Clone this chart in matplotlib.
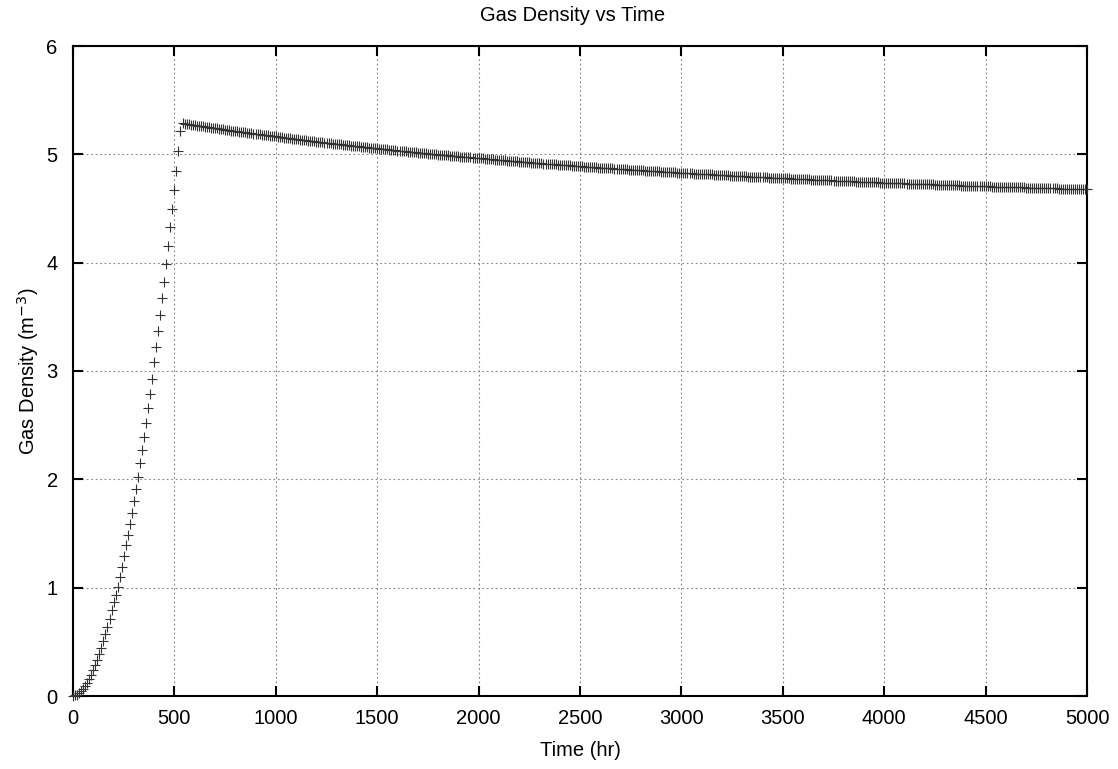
import numpy as np
import matplotlib
matplotlib.use("Agg")
import matplotlib.pyplot as plt

plt.rcParams['font.family'] = ['Liberation Sans', 'DejaVu Sans']

# Filling phase: one sample every 10 hr from 0 to 530 hr
rise_time = np.arange(0, 540, 10)
rise_density = [
    0.000, 0.005, 0.012, 0.025, 0.043, 0.065, 0.092, 0.122, 0.157, 0.196,
    0.240, 0.285, 0.335, 0.390, 0.447, 0.508, 0.572, 0.640, 0.710, 0.795,
    0.865, 0.935, 1.010, 1.100, 1.190, 1.290, 1.390, 1.490, 1.590, 1.690,
    1.800, 1.910, 2.020, 2.150, 2.270, 2.390, 2.520, 2.660, 2.790, 2.930,
    3.080, 3.220, 3.370, 3.520, 3.670, 3.820, 3.990, 4.150, 4.330, 4.500,
    4.670, 4.850, 5.030, 5.220,
]

# Relaxation phase: one sample every 10 hr from 540 to 5000 hr
decay_time = np.arange(540, 5001, 10)
decay_density = [
    5.286, 5.283, 5.280, 5.277, 5.274, 5.272,
    5.269, 5.266, 5.264, 5.261, 5.258, 5.256, 5.253, 5.250, 5.247, 5.245,
    5.242, 5.239, 5.237, 5.234, 5.231, 5.229, 5.226, 5.223, 5.220, 5.218,
    5.215, 5.212, 5.210, 5.207, 5.205, 5.202, 5.199, 5.197, 5.194, 5.192,
    5.189, 5.187, 5.184, 5.182, 5.179, 5.177, 5.175, 5.172, 5.170, 5.167,
    5.165, 5.163, 5.160, 5.158, 5.155, 5.153, 5.151, 5.148, 5.146, 5.143,
    5.141, 5.139, 5.136, 5.134, 5.132, 5.130, 5.127, 5.125, 5.123, 5.120,
    5.118, 5.116, 5.114, 5.111, 5.109, 5.107, 5.105, 5.103, 5.100, 5.098,
    5.096, 5.094, 5.092, 5.090, 5.088, 5.086, 5.083, 5.081, 5.079, 5.077,
    5.075, 5.073, 5.071, 5.069, 5.067, 5.065, 5.063, 5.061, 5.059, 5.057,
    5.055, 5.053, 5.051, 5.049, 5.047, 5.045, 5.043, 5.041, 5.039, 5.037,
    5.035, 5.033, 5.031, 5.029, 5.027, 5.026, 5.024, 5.022, 5.020, 5.018,
    5.016, 5.014, 5.012, 5.011, 5.009, 5.007, 5.005, 5.003, 5.002, 5.000,
    4.998, 4.996, 4.995, 4.993, 4.991, 4.990, 4.988, 4.986, 4.984, 4.983,
    4.981, 4.979, 4.978, 4.976, 4.975, 4.973, 4.971, 4.970, 4.968, 4.967,
    4.965, 4.963, 4.962, 4.960, 4.959, 4.957, 4.955, 4.954, 4.952, 4.951,
    4.949, 4.947, 4.946, 4.944, 4.943, 4.941, 4.939, 4.938, 4.936, 4.935,
    4.933, 4.932, 4.930, 4.929, 4.927, 4.926, 4.924, 4.923, 4.921, 4.920,
    4.918, 4.917, 4.915, 4.914, 4.912, 4.911, 4.910, 4.908, 4.907, 4.905,
    4.904, 4.903, 4.901, 4.900, 4.898, 4.897, 4.896, 4.894, 4.893, 4.891,
    4.890, 4.889, 4.887, 4.886, 4.885, 4.884, 4.882, 4.881, 4.880, 4.878,
    4.877, 4.876, 4.875, 4.873, 4.872, 4.871, 4.870, 4.869, 4.867, 4.866,
    4.865, 4.864, 4.862, 4.861, 4.860, 4.859, 4.857, 4.856, 4.855, 4.853,
    4.852, 4.851, 4.850, 4.849, 4.848, 4.847, 4.845, 4.844, 4.843, 4.842,
    4.841, 4.840, 4.839, 4.838, 4.837, 4.836, 4.834, 4.833, 4.832, 4.831,
    4.830, 4.829, 4.828, 4.827, 4.826, 4.825, 4.823, 4.822, 4.821, 4.820,
    4.819, 4.818, 4.817, 4.816, 4.815, 4.814, 4.812, 4.811, 4.810, 4.809,
    4.808, 4.807, 4.806, 4.805, 4.804, 4.803, 4.802, 4.801, 4.800, 4.799,
    4.798, 4.797, 4.796, 4.795, 4.794, 4.794, 4.793, 4.792, 4.791, 4.790,
    4.789, 4.788, 4.787, 4.786, 4.785, 4.785, 4.784, 4.783, 4.782, 4.781,
    4.780, 4.779, 4.778, 4.777, 4.776, 4.776, 4.775, 4.774, 4.773, 4.772,
    4.771, 4.770, 4.769, 4.768, 4.767, 4.767, 4.766, 4.765, 4.764, 4.763,
    4.762, 4.761, 4.760, 4.760, 4.759, 4.758, 4.757, 4.756, 4.756, 4.755,
    4.754, 4.753, 4.752, 4.752, 4.751, 4.750, 4.749, 4.748, 4.748, 4.747,
    4.746, 4.745, 4.745, 4.744, 4.743, 4.743, 4.742, 4.741, 4.740, 4.740,
    4.739, 4.738, 4.737, 4.737, 4.736, 4.735, 4.734, 4.733, 4.733, 4.732,
    4.731, 4.730, 4.730, 4.729, 4.728, 4.728, 4.727, 4.726, 4.725, 4.725,
    4.724, 4.723, 4.723, 4.722, 4.722, 4.721, 4.720, 4.720, 4.719, 4.719,
    4.718, 4.717, 4.717, 4.716, 4.715, 4.715, 4.714, 4.713, 4.712, 4.712,
    4.711, 4.710, 4.710, 4.709, 4.709, 4.708, 4.707, 4.707, 4.706, 4.706,
    4.705, 4.704, 4.704, 4.703, 4.703, 4.702, 4.701, 4.701, 4.700, 4.700,
    4.699, 4.698, 4.698, 4.697, 4.697, 4.696, 4.695, 4.695, 4.694, 4.694,
    4.693, 4.693, 4.692, 4.692, 4.691, 4.691, 4.690, 4.690, 4.689, 4.689,
    4.688, 4.687, 4.687, 4.686, 4.686, 4.685, 4.684, 4.684, 4.683, 4.683,
    4.682, 4.682, 4.681, 4.681, 4.680, 4.680, 4.679, 4.679, 4.678, 4.678,
    4.677,
]

x_ticks = [0, 500, 1000, 1500, 2000, 2500, 3000, 3500, 4000, 4500, 5000]
y_ticks = [0, 1, 2, 3, 4, 5, 6]

time = np.concatenate([rise_time, decay_time])
density = np.concatenate([rise_density, decay_density])

fig = plt.figure(figsize=(11.18, 7.69), dpi=100)
ax = fig.add_axes([73 / 1118, 1 - 696 / 769, (1087 - 73) / 1118, (696 - 46) / 769])

ax.plot(time, density, linestyle='none', marker='+', markersize=7,
        markeredgewidth=0.8, color='#333333', clip_on=False, zorder=3)

ax.set_xlim(0, 5000)
ax.set_ylim(0, 6)
ax.set_xticks(x_ticks)
ax.set_yticks(y_ticks)

ax.grid(True, color='#808080', linestyle=(0, (1.5, 2.5)), linewidth=0.8)
ax.set_axisbelow(True)

for side in ax.spines.values():
    side.set_linewidth(1.5)
    side.set_color('black')

ax.tick_params(axis='both', which='major', direction='in', length=7, width=1.5,
               top=True, right=True, labelsize=14.5, colors='black')
ax.tick_params(axis='x', pad=9)
ax.tick_params(axis='y', pad=11)

ax.set_xlabel('Time (hr)', fontsize=14.5, labelpad=10)
ax.set_ylabel('Gas Density (m$^{-3}$)', fontsize=14.5, labelpad=4)
ax.set_title('Gas Density vs Time', fontsize=14.5, pad=18, x=0.493)

fig.savefig('out.png', dpi=100)
